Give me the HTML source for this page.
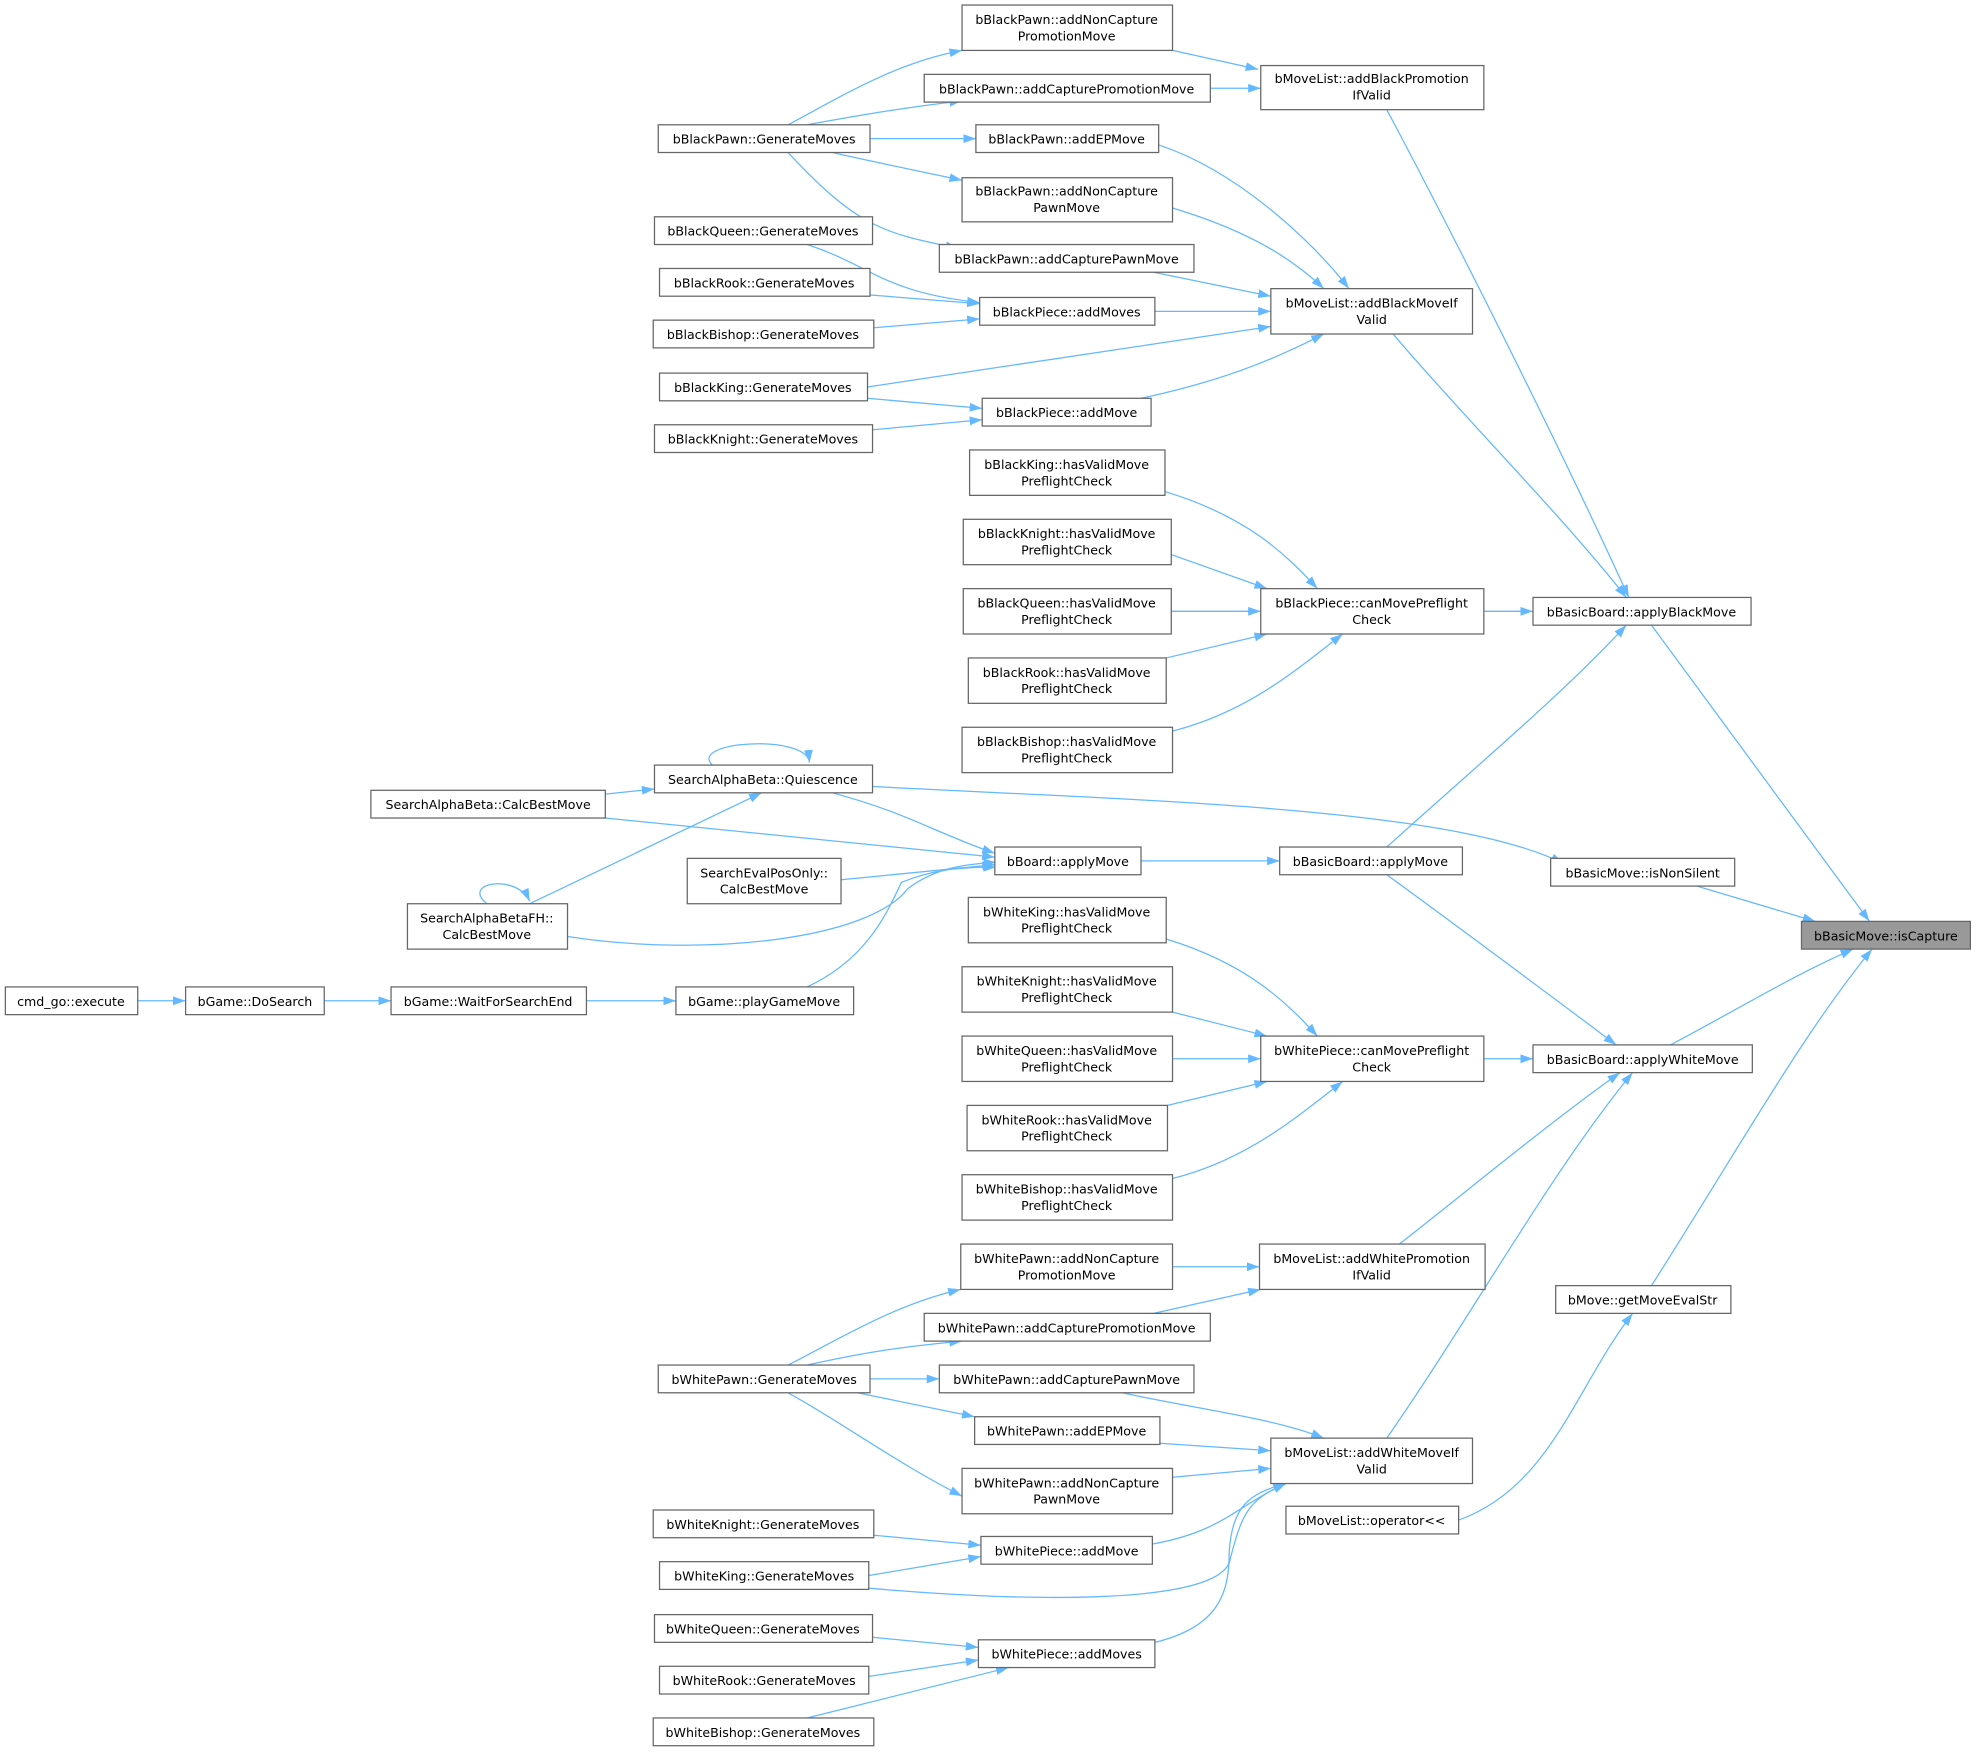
<!DOCTYPE html>
<html><head><meta charset="utf-8"><style>
html,body{margin:0;padding:0;background:#fff;}
svg{display:block;}
text{font-family:"DejaVu Sans","Liberation Sans",sans-serif;font-size:10px;fill:#000;text-anchor:middle;}
rect{fill:#fff;stroke:#666;stroke-width:1;}
path.e{fill:none;stroke:#63b8ff;stroke-width:1;}
</style></head><body>
<svg width="1977" height="1752" viewBox="0 0 1568 1390" xmlns="http://www.w3.org/2000/svg">
<defs><marker id="a" markerUnits="userSpaceOnUse" markerWidth="11" markerHeight="8" refX="10" refY="3.5" orient="auto"><path d="M0,0 L10,3.5 L0,7 z" fill="#63b8ff"/></marker></defs>
<g marker-end="url(#a)">
<path class="e" d="M625,99 C670,75 710,50 763,40"/>
<path class="e" d="M640,99 C690,90 720,85 763,80"/>
<path class="e" d="M690,110 L774,110"/>
<path class="e" d="M660,121 C700,130 730,136 763,143"/>
<path class="e" d="M625,121 C680,180 700,185 760,197"/>
<path class="e" d="M930,40 L998,55"/>
<path class="e" d="M960,70 L1000,70"/>
<path class="e" d="M1100,87 C1160,200 1240,360 1292,474"/>
<path class="e" d="M919,115 C980,135 1040,190 1070,229"/>
<path class="e" d="M930,165 C980,180 1020,200 1050,229"/>
<path class="e" d="M915,216 L1008,235"/>
<path class="e" d="M916,247 L1008,247"/>
<path class="e" d="M688,307 L1008,259"/>
<path class="e" d="M905,316 C980,300 1020,280 1050,265"/>
<path class="e" d="M640,194 C690,210 700,232 777,240"/>
<path class="e" d="M690,234 L777,241"/>
<path class="e" d="M693,260 L777,253"/>
<path class="e" d="M688,316 L779,324"/>
<path class="e" d="M692,341 L779,333"/>
<path class="e" d="M1105,265 C1160,330 1240,410 1290,474"/>
<path class="e" d="M924,390 C990,410 1020,440 1045,467"/>
<path class="e" d="M929,440 L1005,467"/>
<path class="e" d="M929,485 L1000,485"/>
<path class="e" d="M925,522 L1005,503"/>
<path class="e" d="M930,580 C990,565 1030,530 1065,503"/>
<path class="e" d="M1177,485 L1216,485"/>
<path class="e" d="M1310,496 C1380,590 1430,660 1483,731"/>
<path class="e" d="M1100,672 C1180,600 1240,550 1290,496"/>
<path class="e" d="M1100,694 C1170,745 1230,790 1282,829"/>
<path class="e" d="M1325,829 C1380,800 1420,775 1470,753"/>
<path class="e" d="M1310,1020 C1380,910 1430,820 1485,753"/>
<path class="e" d="M1346,703 L1440,731"/>
<path class="e" d="M692,624 C900,635 1150,640 1240,685"/>
<path class="e" d="M1157,1206 C1230,1180 1250,1100 1295,1042"/>
<path class="e" d="M565,607 C545,588 640,582 642,605"/>
<path class="e" d="M480,630 L519,626"/>
<path class="e" d="M660,629 C720,645 740,660 789,677"/>
<path class="e" d="M480,649 L789,680"/>
<path class="e" d="M667,698 L789,686"/>
<path class="e" d="M450,743 C560,760 690,745 720,705 C740,690 760,686 790,684"/>
<path class="e" d="M386,717 C365,700 410,693 420,715"/>
<path class="e" d="M420,717 L604,629"/>
<path class="e" d="M640,783 C690,760 705,720 715,700 C740,690 760,688 790,688"/>
<path class="e" d="M905,683 L1015,683"/>
<path class="e" d="M109,794 L147,794"/>
<path class="e" d="M257,794 L310,794"/>
<path class="e" d="M465,794 L536,794"/>
<path class="e" d="M925,745 C990,765 1020,795 1045,822"/>
<path class="e" d="M930,803 L1005,822"/>
<path class="e" d="M930,840 L1000,840"/>
<path class="e" d="M926,877 L1005,858"/>
<path class="e" d="M930,935 C990,920 1030,885 1065,858"/>
<path class="e" d="M1177,840 L1216,840"/>
<path class="e" d="M1110,987 C1170,940 1230,890 1285,851"/>
<path class="e" d="M1100,1141 C1170,1040 1230,930 1295,851"/>
<path class="e" d="M930,1005 L999,1005"/>
<path class="e" d="M915,1042 L1000,1023"/>
<path class="e" d="M625,1083 C670,1060 710,1035 762,1023"/>
<path class="e" d="M640,1083 C690,1072 720,1068 763,1064"/>
<path class="e" d="M690,1094 L745,1094"/>
<path class="e" d="M680,1105 L773,1124"/>
<path class="e" d="M625,1105 C670,1130 710,1160 763,1187"/>
<path class="e" d="M890,1105 C950,1118 1010,1125 1050,1141"/>
<path class="e" d="M920,1145 L1008,1151"/>
<path class="e" d="M930,1172 L1008,1165"/>
<path class="e" d="M914,1225 C970,1215 980,1195 1020,1177"/>
<path class="e" d="M689,1260 C800,1270 960,1275 975,1240 C985,1200 990,1190 1020,1177"/>
<path class="e" d="M916,1303 C970,1290 975,1260 975,1230 C978,1195 990,1185 1020,1177"/>
<path class="e" d="M693,1218 L778,1226"/>
<path class="e" d="M689,1250 L778,1235"/>
<path class="e" d="M692,1299 L776,1307"/>
<path class="e" d="M689,1330 L776,1317"/>
<path class="e" d="M640,1363 L800,1323"/>
</g>
<g>
<rect x="763" y="4" width="167" height="36"/><text x="846" y="19">bBlackPawn::addNonCapture</text><text x="846" y="32">PromotionMove</text>
<rect x="733" y="59" width="227" height="22"/><text x="846" y="74">bBlackPawn::addCapturePromotionMove</text>
<rect x="1000" y="52" width="177" height="35"/><text x="1088" y="66">bMoveList::addBlackPromotion</text><text x="1088" y="79">IfValid</text>
<rect x="522" y="99" width="168" height="22"/><text x="606" y="114">bBlackPawn::GenerateMoves</text>
<rect x="774" y="99" width="145" height="22"/><text x="846" y="114">bBlackPawn::addEPMove</text>
<rect x="763" y="141" width="167" height="35"/><text x="846" y="155">bBlackPawn::addNonCapture</text><text x="846" y="168">PawnMove</text>
<rect x="519" y="172" width="173" height="22"/><text x="605" y="187">bBlackQueen::GenerateMoves</text>
<rect x="745" y="194" width="202" height="22"/><text x="846" y="209">bBlackPawn::addCapturePawnMove</text>
<rect x="523" y="213" width="167" height="22"/><text x="606" y="228">bBlackRook::GenerateMoves</text>
<rect x="777" y="236" width="139" height="22"/><text x="846" y="251">bBlackPiece::addMoves</text>
<rect x="1008" y="229" width="160" height="36"/><text x="1088" y="244">bMoveList::addBlackMoveIf</text><text x="1088" y="257">Valid</text>
<rect x="518" y="254" width="175" height="22"/><text x="605" y="269">bBlackBishop::GenerateMoves</text>
<rect x="523" y="296" width="165" height="22"/><text x="605" y="311">bBlackKing::GenerateMoves</text>
<rect x="779" y="316" width="134" height="22"/><text x="846" y="331">bBlackPiece::addMove</text>
<rect x="519" y="337" width="173" height="22"/><text x="605" y="352">bBlackKnight::GenerateMoves</text>
<rect x="769" y="357" width="155" height="36"/><text x="846" y="372">bBlackKing::hasValidMove</text><text x="846" y="385">PreflightCheck</text>
<rect x="764" y="412" width="165" height="36"/><text x="846" y="427">bBlackKnight::hasValidMove</text><text x="846" y="440">PreflightCheck</text>
<rect x="1000" y="467" width="177" height="36"/><text x="1088" y="482">bBlackPiece::canMovePreflight</text><text x="1088" y="495">Check</text>
<rect x="764" y="467" width="165" height="36"/><text x="846" y="482">bBlackQueen::hasValidMove</text><text x="846" y="495">PreflightCheck</text>
<rect x="1216" y="474" width="173" height="22"/><text x="1302" y="489">bBasicBoard::applyBlackMove</text>
<rect x="768" y="522" width="157" height="36"/><text x="846" y="537">bBlackRook::hasValidMove</text><text x="846" y="550">PreflightCheck</text>
<rect x="763" y="577" width="167" height="36"/><text x="846" y="592">bBlackBishop::hasValidMove</text><text x="846" y="605">PreflightCheck</text>
<rect x="519" y="607" width="173" height="22"/><text x="605" y="622">SearchAlphaBeta::Quiescence</text>
<rect x="294" y="627" width="186" height="22"/><text x="387" y="642">SearchAlphaBeta::CalcBestMove</text>
<rect x="789" y="672" width="116" height="22"/><text x="847" y="687">bBoard::applyMove</text>
<rect x="1015" y="672" width="145" height="22"/><text x="1087" y="687">bBasicBoard::applyMove</text>
<rect x="545" y="681" width="122" height="36"/><text x="606" y="696">SearchEvalPosOnly::</text><text x="606" y="709">CalcBestMove</text>
<rect x="1230" y="681" width="146" height="22"/><text x="1303" y="696">bBasicMove::isNonSilent</text>
<rect x="323" y="717" width="127" height="36"/><text x="386" y="732">SearchAlphaBetaFH::</text><text x="386" y="745">CalcBestMove</text>
<rect x="768" y="712" width="157" height="36"/><text x="846" y="727">bWhiteKing::hasValidMove</text><text x="846" y="740">PreflightCheck</text>
<rect x="1429" y="731" width="134" height="22" style="fill:#999"/><text x="1496" y="746">bBasicMove::isCapture</text>
<rect x="4" y="783" width="105" height="22"/><text x="56" y="798">cmd_go::execute</text>
<rect x="147" y="783" width="110" height="22"/><text x="202" y="798">bGame::DoSearch</text>
<rect x="310" y="783" width="155" height="22"/><text x="387" y="798">bGame::WaitForSearchEnd</text>
<rect x="536" y="783" width="141" height="22"/><text x="606" y="798">bGame::playGameMove</text>
<rect x="763" y="767" width="167" height="36"/><text x="846" y="782">bWhiteKnight::hasValidMove</text><text x="846" y="795">PreflightCheck</text>
<rect x="763" y="822" width="167" height="36"/><text x="846" y="837">bWhiteQueen::hasValidMove</text><text x="846" y="850">PreflightCheck</text>
<rect x="1000" y="822" width="177" height="36"/><text x="1088" y="837">bWhitePiece::canMovePreflight</text><text x="1088" y="850">Check</text>
<rect x="1216" y="829" width="174" height="22"/><text x="1303" y="844">bBasicBoard::applyWhiteMove</text>
<rect x="767" y="877" width="159" height="36"/><text x="846" y="892">bWhiteRook::hasValidMove</text><text x="846" y="905">PreflightCheck</text>
<rect x="763" y="932" width="167" height="36"/><text x="846" y="947">bWhiteBishop::hasValidMove</text><text x="846" y="960">PreflightCheck</text>
<rect x="762" y="987" width="168" height="36"/><text x="846" y="1002">bWhitePawn::addNonCapture</text><text x="846" y="1015">PromotionMove</text>
<rect x="999" y="987" width="179" height="36"/><text x="1088" y="1002">bMoveList::addWhitePromotion</text><text x="1088" y="1015">IfValid</text>
<rect x="1234" y="1020" width="139" height="22"/><text x="1303" y="1035">bMove::getMoveEvalStr</text>
<rect x="733" y="1042" width="227" height="22"/><text x="846" y="1057">bWhitePawn::addCapturePromotionMove</text>
<rect x="522" y="1083" width="168" height="22"/><text x="606" y="1098">bWhitePawn::GenerateMoves</text>
<rect x="745" y="1083" width="202" height="22"/><text x="846" y="1098">bWhitePawn::addCapturePawnMove</text>
<rect x="773" y="1124" width="147" height="22"/><text x="846" y="1139">bWhitePawn::addEPMove</text>
<rect x="1008" y="1141" width="160" height="36"/><text x="1088" y="1156">bMoveList::addWhiteMoveIf</text><text x="1088" y="1169">Valid</text>
<rect x="763" y="1165" width="167" height="36"/><text x="846" y="1180">bWhitePawn::addNonCapture</text><text x="846" y="1193">PawnMove</text>
<rect x="518" y="1198" width="175" height="22"/><text x="605" y="1213">bWhiteKnight::GenerateMoves</text>
<rect x="1020" y="1195" width="137" height="22"/><text x="1088" y="1210">bMoveList::operator&lt;&lt;</text>
<rect x="778" y="1219" width="136" height="22"/><text x="846" y="1234">bWhitePiece::addMove</text>
<rect x="523" y="1239" width="166" height="22"/><text x="606" y="1254">bWhiteKing::GenerateMoves</text>
<rect x="519" y="1281" width="173" height="22"/><text x="605" y="1296">bWhiteQueen::GenerateMoves</text>
<rect x="776" y="1301" width="140" height="22"/><text x="846" y="1316">bWhitePiece::addMoves</text>
<rect x="523" y="1322" width="166" height="22"/><text x="606" y="1337">bWhiteRook::GenerateMoves</text>
<rect x="518" y="1363" width="175" height="22"/><text x="605" y="1378">bWhiteBishop::GenerateMoves</text>
</g>
</svg>
</body></html>
